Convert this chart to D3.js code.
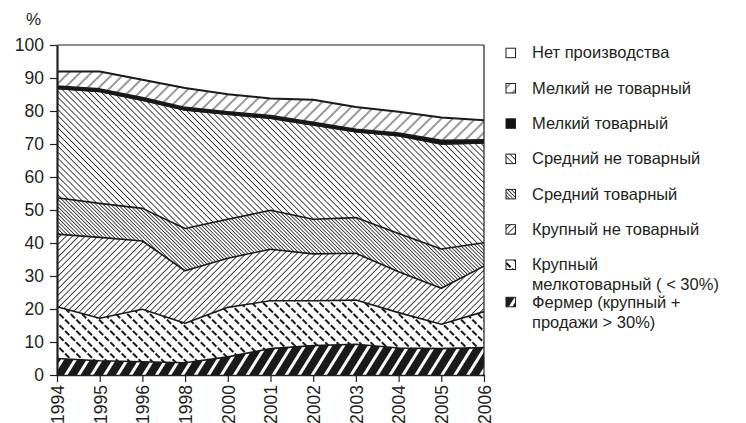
<!DOCTYPE html>
<html><head><meta charset="utf-8">
<script src="https://cdn.jsdelivr.net/npm/d3@7"></script>
<style>
body{margin:0;background:#fff;}
svg{font-family:"Liberation Sans",Arial,Helvetica,sans-serif;}
</style></head>
<body><svg id="c" width="746" height="423"></svg>
<script>
const years = ["1994","1995","1996","1998","2000","2001","2002","2003","2004","2005","2006"];
const fermer      = [5.0, 4.3, 4.0, 3.7, 5.5, 8.0, 8.9, 9.3, 8.2, 8.0, 8.3];
const krupMelkoTov= [15.7,12.9,15.9,12.0,15.0,14.5,13.6,13.4,10.7,7.4,10.9];
const krupNeTov   = [22.0,24.5,20.7,15.9,14.9,15.6,14.2,14.2,12.4,10.9,13.8];
const srednTov    = [11.0,10.3,9.9,12.8,11.8,11.8,10.5,10.8,11.6,11.9,7.1];
const srednNeTov  = [33.1,33.9,32.8,35.9,31.8,27.9,28.6,26.0,29.6,31.8,30.2];
const melkTov     = [0.7,0.7,0.7,0.7,0.7,0.7,0.7,0.7,0.7,1.0,0.9];
const melkNeTov   = [4.5,5.4,5.5,6.0,5.4,5.3,6.9,6.8,6.6,7.0,6.0];
const netProizv   = [8.0,8.0,10.5,13.0,14.9,16.2,16.6,18.8,20.2,22.0,22.8];
const yTicks = [0,10,20,30,40,50,60,70,80,90,100];

const seriesKeys = ["fermer","krupMelkoTov","krupNeTov","srednTov","srednNeTov","melkTov","melkNeTov","netProizv"];
const seriesVals = {fermer,krupMelkoTov,krupNeTov,srednTov,srednNeTov,melkTov,melkNeTov,netProizv};
const legendItems = [
  {key:"netProizv", lines:["Нет производства"]},
  {key:"melkNeTov", lines:["Мелкий не товарный"]},
  {key:"melkTov", lines:["Мелкий товарный"]},
  {key:"srednNeTov", lines:["Средний не товарный"]},
  {key:"srednTov", lines:["Средний товарный"]},
  {key:"krupNeTov", lines:["Крупный не товарный"]},
  {key:"krupMelkoTov", lines:["Крупный","мелкотоварный ( < 30%)"]},
  {key:"fermer", lines:["Фермер (крупный +","продажи > 30%)"]}
];

const table = years.map((y,i)=>{const o={year:y}; seriesKeys.forEach(k=>o[k]=seriesVals[k][i]); return o;});

const svg = d3.select("#c");
const ink = "#231f20";
const x = d3.scalePoint().domain(years).range([57,484]);
const y = d3.scaleLinear().domain([0,100]).range([375,45]);

const defs = svg.append("defs");
function linePat(id, period, angle, sw, color, dash){
  const p = defs.append("pattern").attr("id",id).attr("patternUnits","userSpaceOnUse")
    .attr("width",period).attr("height",period).attr("patternTransform",`rotate(${angle})`);
  p.append("rect").attr("width",period).attr("height",period).attr("fill","#fff");
  const l = p.append("line").attr("x1",period/2).attr("x2",period/2).attr("y1",0).attr("y2",period)
    .attr("stroke",color).attr("stroke-width",sw);
  if(dash) l.attr("stroke-dasharray",dash);
}
// Фермер: black with white stripes
(function(){
  const per=11;
  const p = defs.append("pattern").attr("id","p_fermer").attr("patternUnits","userSpaceOnUse")
    .attr("width",per).attr("height",per).attr("patternTransform","rotate(32)");
  p.append("rect").attr("width",per).attr("height",per).attr("fill","#1a1a1a");
  p.append("rect").attr("x",0).attr("width",3).attr("height",per).attr("fill","#fff");
})();
linePat("p_krupMelkoTov", 8, -45, 2, "#1a1a1a", "6,2");
linePat("p_krupNeTov", 4.5, 45, 0.9, "#333");
linePat("p_srednTov", 2.6, -45, 0.9, "#333");
linePat("p_srednNeTov", 4.3, -45, 0.9, "#333");
linePat("p_melkNeTov", 8, 45, 1, "#333");
const fills = {
  fermer:"url(#p_fermer)", krupMelkoTov:"url(#p_krupMelkoTov)", krupNeTov:"url(#p_krupNeTov)",
  srednTov:"url(#p_srednTov)", srednNeTov:"url(#p_srednNeTov)", melkTov:"#111",
  melkNeTov:"url(#p_melkNeTov)", netProizv:"#fff"
};

const stack = d3.stack().keys(seriesKeys);
const layers = stack(table);
const area = d3.area().x(d=>x(d.data.year)).y0(d=>y(d[0])).y1(d=>y(d[1]));
const topLine = d3.line().x(d=>x(d.data.year)).y(d=>y(d[1]));

svg.append("g").selectAll("path").data(layers).join("path")
  .attr("d",area).attr("fill",d=>fills[d.key]).attr("stroke","none");

svg.append("g").selectAll("path").data(layers.filter(l=>l.key!=="netProizv")).join("path")
  .attr("d",topLine).attr("fill","none").attr("stroke","#1a1a1a")
  .attr("stroke-width",d=>d.key==="melkTov"?2.2:(d.key==="melkNeTov"?2:1.6))
  .attr("stroke-linejoin","round");
svg.append("path").datum(layers.find(l=>l.key==="srednNeTov")).attr("d",topLine)
  .attr("fill","none").attr("stroke","#1a1a1a").attr("stroke-width",1.6);

// frame
svg.append("line").attr("x1",x("1994")).attr("x2",x("2006")).attr("y1",y(100)).attr("y2",y(100))
  .attr("stroke",ink).attr("stroke-width",1.2);
svg.append("line").attr("x1",x("2006")).attr("x2",x("2006")).attr("y1",y(100)).attr("y2",y(0))
  .attr("stroke",ink).attr("stroke-width",1.2);

// y axis
const ya = svg.append("g").attr("transform","translate(57,0)")
  .call(d3.axisLeft(y).tickValues(yTicks).tickSize(7).tickPadding(6).tickSizeOuter(0));
ya.select(".domain").attr("stroke",ink).attr("stroke-width",2.2);
ya.selectAll(".tick line").attr("stroke",ink).attr("stroke-width",1.2);
ya.selectAll(".tick text").attr("fill",ink).attr("font-size",17.5).attr("font-family","Liberation Sans, Arial, sans-serif");

// x axis
const xa = svg.append("g").attr("transform","translate(0,375)")
  .call(d3.axisBottom(x).tickSize(7).tickSizeOuter(0).tickPadding(0));
xa.select(".domain").attr("stroke",ink).attr("stroke-width",1.6);
xa.selectAll(".tick line").attr("stroke",ink).attr("stroke-width",1.2);
xa.selectAll(".tick text").attr("fill",ink).attr("font-size",17.5)
  .attr("font-family","Liberation Sans, Arial, sans-serif")
  .attr("text-anchor","end").attr("transform","translate(0,10) rotate(-90)")
  .attr("x",0).attr("y",0).attr("dy","0.36em");

svg.append("text").attr("x",26).attr("y",25).attr("fill",ink).attr("font-size",17).text("%");

// legend
const lg = svg.append("g");
legendItems.forEach((it,i)=>{
  const cy = 52.7 + i*35.3 + (i>=7?2:0);
  const g = lg.append("g");
  g.append("rect").attr("x",506).attr("y",cy-4.5).attr("width",9.5).attr("height",9.5)
    .attr("fill",fills[it.key]).attr("stroke",ink).attr("stroke-width",1);
  it.lines.forEach((t,j)=>{
    g.append("text").attr("x",532).attr("y",cy+j*20).attr("dy","0.35em")
      .attr("font-size",16.5).attr("fill",ink).text(t);
  });
});
</script></body></html>
